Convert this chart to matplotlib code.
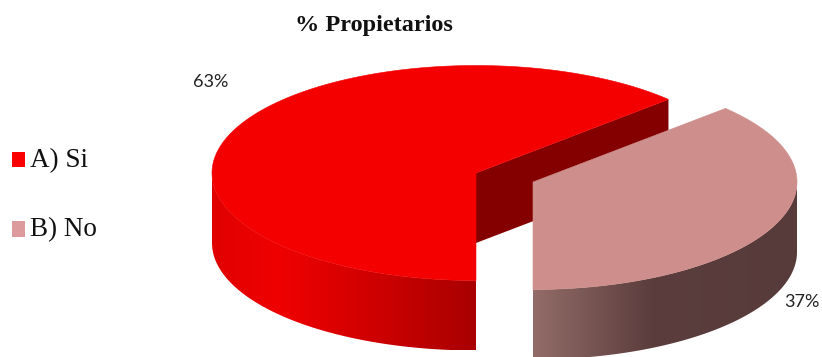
import numpy as np
import matplotlib
matplotlib.use("Agg")
import matplotlib.pyplot as plt
from matplotlib.colors import LinearSegmentedColormap
from matplotlib.patches import Polygon, Rectangle

# data
categories = ["A) Si", "B) No"]
values = [63, 37]
value_labels = ["63%", "37%"]
title = "% Propietarios"

# style
top_colors = ["#F40000", "#CE8E8B"]
wall_color = "#840000"
legend_colors = ["#FA0000", "#DC9A9C"]
red_side = [(0.0, "#E00000"), (0.25, "#F00000"), (0.6, "#D00000"), (1.0, "#A80000")]
pink_side = [(0.0, "#926C68"), (0.45, "#5B3D3D"), (1.0, "#573A3A")]
centers = [(476, 173), (533, 182)]
rx, ry, depth = 264, 107.5, 70

fig = plt.figure(figsize=(8.22, 3.57), dpi=100)
ax = fig.add_axes([0, 0, 1, 1])


def arc(c, t1, t2, dz=0, n=200):
    t = np.radians(np.linspace(t1, t2, n))
    return np.column_stack([c[0] + rx * np.cos(t), c[1] - ry * np.sin(t) + dz])


def gradient(stops, x0, x1, y0, y1, clip, z):
    cmap = LinearSegmentedColormap.from_list("g", stops)
    im = ax.imshow(np.linspace(0, 1, 256)[None, :], cmap=cmap, aspect="auto",
                   extent=[x0, x1, y1, y0], zorder=z, interpolation="bilinear")
    patch = Polygon(clip, closed=True, transform=ax.transData, fc="none", ec="none")
    ax.add_patch(patch)
    im.set_clip_path(patch)


# slice angles derived from the values (clockwise from straight down)
fractions = np.array(values) / sum(values)
a0 = 270.0
a1 = a0 - 360 * fractions[0]
a2 = a1 - 360 * fractions[1]

# red slice
c = centers[0]
side = np.vstack([arc(c, 270, 180), arc(c, 180, 270, depth)])
gradient(red_side, c[0] - rx, c[0], c[1] - ry, c[1] + ry + depth, side, 1)
tip = arc(c, a1, a1, n=1)[0]
wall = [c, tip, (tip[0], tip[1] + depth), (c[0], c[1] + depth)]
ax.add_patch(Polygon(wall, closed=True, fc=wall_color, ec="none", zorder=2))
ax.add_patch(Polygon(np.vstack([[c], arc(c, a0, a1)]), closed=True,
                     fc=top_colors[0], ec=top_colors[0], lw=0.4, zorder=3))

# pink slice
c = centers[1]
side = np.vstack([arc(c, 0, -90), arc(c, -90, 0, depth)])
gradient(pink_side, c[0], c[0] + rx, c[1] - ry, c[1] + ry + depth, side, 4)
ax.add_patch(Polygon(np.vstack([[c], arc(c, a1, a2)]), closed=True,
                     fc=top_colors[1], ec=top_colors[1], lw=0.4, zorder=5))

# texts
ax.text(374, 25, title, ha="center", va="center", family="Liberation Serif",
        weight="bold", fontsize=17.5, color="#111111")
ax.text(211, 82, value_labels[0], ha="center", va="center", family="Lato",
        fontsize=13, color="#222222")
ax.text(802, 302, value_labels[1], ha="center", va="center", family="Lato",
        fontsize=13, color="#222222")

# legend
for cat, col, ys, yt in zip(categories, legend_colors, [(152, 167), (221, 237)], [161, 230]):
    ax.add_patch(Rectangle((12, ys[0]), 13, ys[1] - ys[0], fc=col, ec="none"))
    ax.text(30, yt, cat, ha="left", va="center", family="Liberation Serif",
            fontsize=19.5, color="#111111")

ax.set_xlim(0, 822)
ax.set_ylim(357, 0)
ax.axis("off")
fig.savefig("out.png", dpi=100)
